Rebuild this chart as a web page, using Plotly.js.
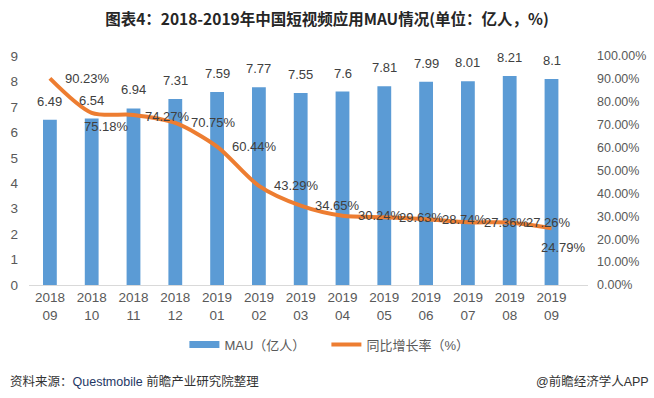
<!DOCTYPE html>
<html>
<head>
<meta charset="utf-8">
<script src="https://cdn.plot.ly/plotly-3.0.1.min.js"></script>
<style>html,body{margin:0;padding:0;background:#fff;}#chart{width:654px;height:398px;}</style>
</head>
<body>
<div id="chart"></div>
<script>
const categories = ['2018<br>09','2018<br>10','2018<br>11','2018<br>12','2019<br>01','2019<br>02','2019<br>03','2019<br>04','2019<br>05','2019<br>06','2019<br>07','2019<br>08','2019<br>09'];
const mauValues = [6.49, 6.54, 6.94, 7.31, 7.59, 7.77, 7.55, 7.6, 7.81, 7.99, 8.01, 8.21, 8.1];
const mauLabels = ['6.49','6.54','6.94','7.31','7.59','7.77','7.55','7.6','7.81','7.99','8.01','8.21','8.1'];
const growthValues = [90.23, 75.18, 74.27, 70.75, 60.44, 43.29, 34.65, 30.24, 29.63, 28.74, 27.36, 27.26, 24.79];
// label placement (styling only): anchor and pixel offsets per point
const growthLabelAnchor = ['left','center','left','left','left','left','left','left','left','left','left','left','center'];
const growthLabelDx = [13, 15, 9, 14, 13, 13, 12, 13, 13, 14, 14, 14, 12];
const growthLabelDy = [0, -14, -2, 0, 0, 0, 0, 0, 0, 0, 0, 0, -19];

const FONT = 'Liberation Sans, "Noto Sans CJK SC", sans-serif';
const TXT = '#595959';

const traces = [
  {
    type: 'bar', x: categories, y: mauValues, name: 'MAU（亿人）',
    marker: {color: '#5B9BD5'}, showlegend: false, yaxis: 'y', hoverinfo: 'none'
  },
  {
    type: 'scatter', mode: 'lines', x: categories, y: growthValues, yaxis: 'y2',
    name: '同比增长率（%）', showlegend: false,
    line: {color: '#ED7D31', width: 4, shape: 'spline', smoothing: 0.8},
    cliponaxis: false, hoverinfo: 'none'
  },
  {
    type: 'scatter', mode: 'lines', x: [null], y: [null], name: 'MAU（亿人）',
    line: {color: '#5B9BD5', width: 7}, showlegend: true
  },
  {
    type: 'scatter', mode: 'lines', x: [null], y: [null], name: '同比增长率（%）', yaxis: 'y2',
    line: {color: '#ED7D31', width: 4}, showlegend: true
  }
];

const annotations = mauValues.map((v, i) => ({
  x: categories[i], y: v, xref: 'x', yref: 'y', text: mauLabels[i],
  showarrow: false, yanchor: 'bottom', yshift: 9,
  font: {family: FONT, size: 13, color: '#404040'}
}));

growthValues.forEach((v, i) => {
  annotations.push({
    x: categories[i], y: v, xref: 'x', yref: 'y2', text: v.toFixed(2) + '%',
    showarrow: false, xanchor: growthLabelAnchor[i], yanchor: 'middle',
    xshift: growthLabelDx[i], yshift: growthLabelDy[i],
    font: {family: FONT, size: 13, color: '#404040'}
  });
});

annotations.push({
  xref: 'paper', yref: 'paper', x: -0.037, y: -0.42, xanchor: 'left', yanchor: 'middle',
  text: '资料来源：<span style="color:#1F3864">Questmobile</span> 前瞻产业研究院整理', showarrow: false,
  font: {family: FONT, size: 12.5, color: '#333333'}
});
annotations.push({
  xref: 'paper', yref: 'paper', x: 1.113, y: -0.42, xanchor: 'right', yanchor: 'middle',
  text: '@前瞻经济学人APP', showarrow: false,
  font: {family: FONT, size: 12.5, color: '#333333'}
});

const layout = {
  width: 654, height: 398,
  margin: {l: 28.5, r: 65.5, t: 56, b: 113},
  paper_bgcolor: '#ffffff', plot_bgcolor: '#ffffff',
  font: {family: FONT, size: 13, color: TXT},
  title: {
    text: '<b>图表4：2018-2019年中国短视频应用MAU情况(单位：亿人，%)</b>',
    x: 0.5, xanchor: 'center', y: 0.95, yanchor: 'middle',
    font: {family: '"Noto Sans CJK SC", Liberation Sans, sans-serif', size: 15.5, color: '#262626'}
  },
  bargap: 0.67,
  xaxis: {
    type: 'category', showgrid: false, showline: true, linecolor: '#D9D9D9', linewidth: 1,
    ticks: '', tickfont: {family: FONT, size: 13.5, color: TXT}, fixedrange: true
  },
  yaxis: {
    range: [0, 9], dtick: 1, showgrid: false, zeroline: false, showline: false,
    ticks: '', ticklabelstandoff: 10, tickfont: {family: FONT, size: 13.5, color: TXT}
  },
  yaxis2: {
    overlaying: 'y', side: 'right', range: [0, 100], dtick: 10,
    tickformat: '.2f', ticksuffix: '%', showgrid: false, zeroline: false, showline: false,
    ticks: '', ticklabelstandoff: 8, tickfont: {family: FONT, size: 12.5, color: TXT}
  },
  legend: {
    orientation: 'h', x: 0.278, xanchor: 'left', y: -0.26, yanchor: 'middle',
    font: {family: FONT, size: 13, color: TXT}, itemwidth: 30, entrywidth: 97, tracegroupgap: 0
  },
  annotations: annotations,
  showlegend: true
};

Plotly.newPlot('chart', traces, layout, {staticPlot: true});
</script>
</body>
</html>
